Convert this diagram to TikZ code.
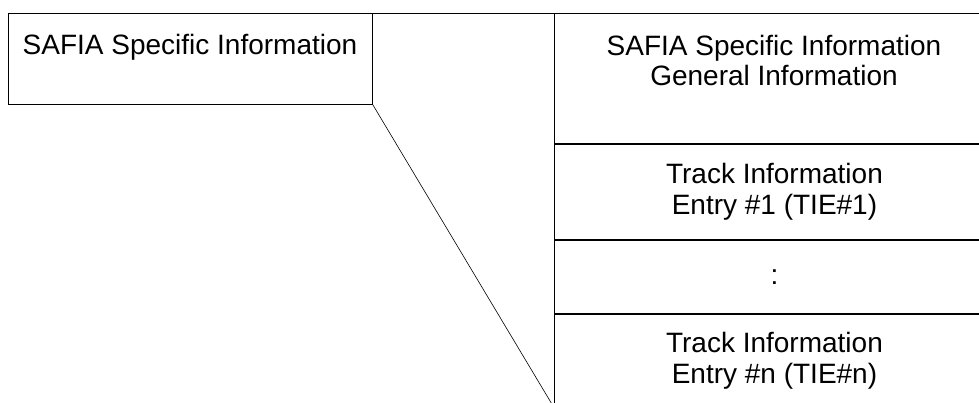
\documentclass[tikz,border=0pt]{standalone}
\usepackage{fontspec}
\setmainfont{Liberation Sans}
\usetikzlibrary{positioning}

\begin{document}
\begin{tikzpicture}[
    x=1pt, y=-1pt,
    node distance=0pt,
    every node/.style={font=\fontsize{28}{30.5}\selectfont},
    box/.style={draw, line width=0.9pt, minimum width=364pt, minimum height=91pt, anchor=north west, inner sep=0pt},
    cell/.style={draw, line width=0.9pt, minimum width=440pt, anchor=north west, align=center, inner sep=0pt},
    caption/.style={anchor=base, align=center},
    zoomline/.style={line width=0.6pt}
]
\clip (0,0) rectangle (979,403);

% condensed view
\node[box] (safia) at (8,13) {};
\node[caption] (safiatxt) at (190,55) {SAFIA Specific Information};

% expanded view
\node[cell, minimum height=130pt] (general) at (554,13) {};
\node[caption] (generaltxt) at (774,86) {SAFIA Specific Information\\General Information};
\node[cell, minimum height=95pt, below=of general] (tie1) {Track Information\\Entry \#1 (TIE\#1)};
\node[cell, minimum height=73pt, below=of tie1] (dots) {:};
\node[cell, minimum height=93pt, below=of dots] (tien) {Track Information\\Entry \#n (TIE\#n)};

\draw[zoomline] (safia.north east) -- (general.north west);
\draw[zoomline] (safia.south east) -- (tien.south west);

\end{tikzpicture}
\end{document}
